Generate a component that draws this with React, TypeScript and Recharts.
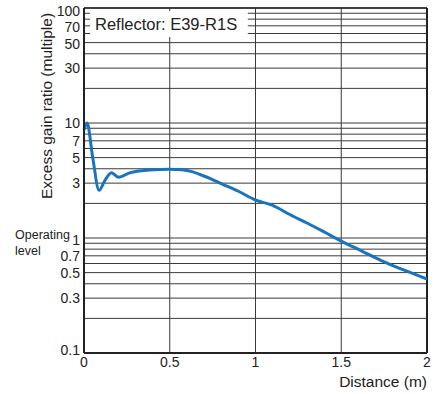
import { LineChart, Line, XAxis, YAxis, CartesianGrid, ReferenceLine, ReferenceArea } from 'recharts';

const distance = [0, 0.018, 0.05, 0.088, 0.12, 0.16, 0.2, 0.27, 0.38, 0.5, 0.57, 0.63, 0.68, 0.74, 0.8, 0.9, 1.0, 1.1, 1.2, 1.3, 1.4, 1.5, 1.62, 1.73, 1.86, 2.0];
const gain = [8.7, 10, 5.1, 2.6, 3.13, 3.7, 3.38, 3.7, 3.9, 3.97, 3.93, 3.78, 3.55, 3.27, 2.97, 2.55, 2.14, 1.92, 1.6, 1.35, 1.13, 0.94, 0.77, 0.64, 0.53, 0.44];

const xTicks = [0, 0.5, 1, 1.5, 2];
const yTicks = [0.1, 0.3, 0.5, 0.7, 1, 3, 5, 7, 10, 30, 50, 70, 100];
const gridY = [
  0.1, 0.2, 0.3, 0.4, 0.5, 0.6, 0.7, 0.8, 0.9,
  1, 2, 3, 4, 5, 6, 7, 8, 9,
  10, 20, 30, 40, 50, 60, 70, 80, 90, 100,
];
const gridX = [0.5, 1, 1.5];

const rows = distance.map((d, i) => ({ d, g: gain[i] }));

const FONT = '"Liberation Sans", Arial, sans-serif';
const INK = '#222';

function YTick(props: any) {
  const { x, y, payload } = props;
  const v = payload.value;
  let shift = 0;
  if (v === 100) shift = 3;
  if (v === 70) shift = 1;
  if (v === 50) shift = 1;
  if (v === 0.1) shift = -3;
  if (v === 1) shift = 2;
  return (
    <g>
      <text x={x} y={y + shift} dy="0.355em" textAnchor="end" fontSize={14} fill={INK} fontFamily={FONT}>
        {String(v)}
      </text>
      {v === 1 && (
        <text x={15} y={y} fontSize={12.5} fill={INK} fontFamily={FONT}>
          <tspan x={15} dy="0.1em">Operating</tspan>
          <tspan x={15} dy="1.25em">level</tspan>
        </text>
      )}
    </g>
  );
}

function XTick(props: any) {
  const { x, y, payload } = props;
  return (
    <text x={x} y={y} dy="0.71em" textAnchor="middle" fontSize={14} fill={INK} fontFamily={FONT}>
      {String(payload.value)}
    </text>
  );
}

export default function App() {
  return (
    <div style={{ position: 'absolute', left: 0, top: 0, fontFamily: FONT, background: '#fff' }}>
      <LineChart width={438} height={394} data={rows} margin={{ top: 8, right: 11, left: 0, bottom: 0 }}>
        <CartesianGrid stroke="#3a3a3a" strokeWidth={1} horizontalValues={gridY} verticalValues={gridX} />
        <XAxis
          dataKey="d"
          type="number"
          domain={[0, 2]}
          ticks={xTicks}
          height={41}
          tickSize={0}
          tickMargin={4}
          tick={<XTick />}
          axisLine={{ stroke: INK, strokeWidth: 2 }}
          tickLine={false}
          label={() => (
            <text x={427} y={387} textAnchor="end" fontSize={15.5} fill={INK} fontFamily={FONT}>
              Distance (m)
            </text>
          )}
        />
        <YAxis
          scale="log"
          domain={[0.1, 100]}
          allowDataOverflow
          ticks={yTicks}
          width={84}
          tickSize={0}
          tickMargin={4}
          tick={<YTick />}
          axisLine={{ stroke: INK, strokeWidth: 2 }}
          tickLine={false}
          interval={0}
          label={() => (
            <text
              x={46}
              y={106}
              transform="rotate(-90 46 106)"
              textAnchor="middle"
              dominantBaseline="central"
              fontSize={15.5}
              fill={INK}
              fontFamily={FONT}
            >
              Excess gain ratio (multiple)
            </text>
          )}
        />
        <ReferenceLine x={2} stroke={INK} strokeWidth={2} />
        <ReferenceLine y={100} stroke={INK} strokeWidth={1.5} />
        <ReferenceArea
          x1={0.035}
          x2={0.955}
          y1={56}
          y2={94}
          fill="#fff"
          fillOpacity={1}
          stroke="none"
          label={{ value: 'Reflector: E39-R1S', position: 'insideLeft', offset: 5, fill: INK, fontSize: 16.5, fontFamily: FONT }}
        />
        <Line
          type="monotone"
          dataKey="g"
          stroke="#1a74bb"
          strokeWidth={3}
          dot={false}
          isAnimationActive={false}
        />
      </LineChart>
    </div>
  );
}
